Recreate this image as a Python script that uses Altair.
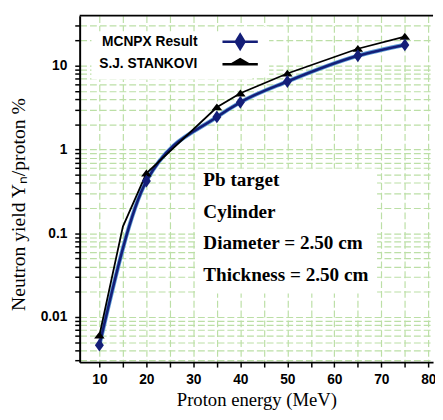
import altair as alt
import pandas as pd

# ---- data ----
series_names = ["MCNPX Result", "S.J. STANKOVI"]
energy_mcnpx = [10, 20, 35, 40, 50, 65, 75]
yield_mcnpx = [0.0046, 0.42, 2.45, 3.67, 6.5, 13.2, 17.8]
energy_stank = [10, 15, 20, 35, 40, 50, 65, 75]
yield_stank = [0.006, 0.12, 0.52, 3.2, 4.7, 8.1, 16.0, 22.4]
stank_marker = [True, False, True, True, True, True, True, True]
x_ticks = [10, 15, 20, 25, 30, 35, 40, 45, 50, 55, 60, 65, 70, 75, 80]
y_ticks = [0.003, 0.004, 0.005, 0.006, 0.007, 0.008, 0.009,
           0.01, 0.02, 0.03, 0.04, 0.05, 0.06, 0.07, 0.08, 0.09,
           0.1, 0.2, 0.3, 0.4, 0.5, 0.6, 0.7, 0.8, 0.9,
           1, 2, 3, 4, 5, 6, 7, 8, 9,
           10, 20, 30]
info_lines = ["Pb target", "Cylinder", "Diameter = 2.50 cm", "Thickness = 2.50 cm"]

mc = pd.DataFrame({"energy": energy_mcnpx, "yield": yield_mcnpx,
                   "series": series_names[0], "marker": True})
st = pd.DataFrame({"energy": energy_stank, "yield": yield_stank,
                   "series": series_names[1], "marker": stank_marker})
df = pd.concat([mc, st], ignore_index=True)

W, H = 360, 353
NAVY = "#141e78"
GRID = "#bcdfa6"

x_enc = alt.X("energy:Q",
              scale=alt.Scale(domain=[5.8, 81], nice=False, zero=False),
              axis=alt.Axis(values=x_ticks, title="Proton energy (MeV)",
                            labelExpr="datum.value % 10 == 0 ? datum.label : ''",
                            grid=True, gridColor=GRID, gridDash=[7, 3], gridWidth=1.2,
                            domainColor="black", domainWidth=2,
                            tickColor="black", tickWidth=1.5, tickSize=5,
                            labelFont="Liberation Sans", labelFontWeight="bold",
                            labelFontSize=14, labelColor="black", labelPadding=6,
                            titleFont="Liberation Serif", titleFontWeight="normal",
                            titleFontSize=19, titleColor="black",
                            titleX=W / 2, titleY=38, titleBaseline="middle"))
y_enc = alt.Y("yield:Q",
              scale=alt.Scale(type="log", domain=[0.00288, 39.8], nice=False),
              axis=alt.Axis(values=y_ticks, title="Neutron yield Yₙ/proton %",
                            format="~g",
                            labelExpr="abs(log(datum.value)/LN10 - round(log(datum.value)/LN10)) < 0.001 ? datum.label : ''",
                            grid=True, gridColor=GRID, gridDash=[7, 3], gridWidth=1.2,
                            domainColor="black", domainWidth=2,
                            tickColor="black", tickWidth=1.5, tickSize=5,
                            labelFont="Liberation Sans", labelFontWeight="bold",
                            labelFontSize=14, labelColor="black", labelPadding=8,
                            titleFont="Liberation Serif", titleFontWeight="normal",
                            titleFontSize=20, titleColor="black",
                            titleX=-62, titleY=192, titleAngle=-90,
                            titleBaseline="middle", titleAlign="center"))

base = alt.Chart(df)
one = alt.Chart(pd.DataFrame({"a": [0]}))

frame_top = one.mark_rule(color="black", strokeWidth=2).encode(
    x=alt.value(0), x2=alt.value(W), y=alt.value(0))

blue_under = base.transform_filter(alt.datum.series == series_names[0]).mark_line(
    color="#5b9bd5", strokeWidth=4.2, interpolate="monotone").encode(x=x_enc, y=y_enc)
blue_line = base.transform_filter(alt.datum.series == series_names[0]).mark_line(
    color=NAVY, strokeWidth=2.6, interpolate="monotone").encode(x=x_enc, y=y_enc)
black_line = base.transform_filter(alt.datum.series == series_names[1]).mark_line(
    color="black", strokeWidth=1.8).encode(x=x_enc, y=y_enc)
tri = base.transform_filter(
    (alt.datum.series == series_names[1]) & alt.datum.marker).mark_point(
    shape="M-0.85,0.5L0,-0.6L0.85,0.5Z", filled=True, color="black", size=160,
    opacity=1).encode(x=x_enc, y=y_enc)
dia = base.transform_filter(alt.datum.series == series_names[0]).mark_point(
    shape="M0,-1L0.7,0L0,1L-0.7,0Z", filled=True, color=NAVY, size=170,
    opacity=1).encode(x=x_enc, y=y_enc)

legend_box = one.mark_rect(color="white").encode(
    x=alt.value(12), x2=alt.value(176), y=alt.value(16), y2=alt.value(65))

legend_paths = ["M-2.25,0L2.25,0M0,-0.9L0.55,0L0,0.9L-0.55,0Z",
                "M-2.25,0L2.25,0M-1.1,0L0,-0.65L1.1,0Z"]
leg_scale = alt.Scale(domain=series_names, range=[NAVY, "black"])
leg = alt.Chart(pd.DataFrame({"series": series_names})).mark_point(
    filled=True, size=0).encode(
    shape=alt.Shape("series:N", title=None,
                    scale=alt.Scale(domain=series_names, range=legend_paths)),
    fill=alt.Fill("series:N", title=None, scale=leg_scale),
    stroke=alt.Stroke("series:N", title=None, scale=leg_scale))

box = one.mark_rect(color="white").encode(
    x=alt.value(119), x2=alt.value(303), y=alt.value(156), y2=alt.value(283))
info = one.mark_text(text=info_lines, align="left", baseline="top",
                     font="Liberation Serif", fontSize=19.5, fontWeight="bold",
                     lineHeight=32, color="black").encode(
    x=alt.value(126), y=alt.value(159))

chart = alt.layer(frame_top, blue_under, blue_line, black_line, tri, dia,
                  legend_box, leg, box, info).properties(
    width=W, height=H,
    autosize=alt.AutoSizeParams(type="none"),
    padding={"left": 73, "top": 4, "right": 2, "bottom": 47},
    background="white",
).configure_view(stroke=None).configure_legend(
    orient="none", legendX=148, legendY=11, fillColor="white", padding=6,
    labelFont="Liberation Sans", labelFontWeight="bold", labelFontSize=14,
    labelColor="black", labelAlign="right", labelOffset={"expr": "-53"},
    symbolSize=256, symbolStrokeWidth=2.6, rowPadding=0, symbolOpacity=1,
)

chart.save("out.html", embed_options={"renderer": "svg", "actions": False})
